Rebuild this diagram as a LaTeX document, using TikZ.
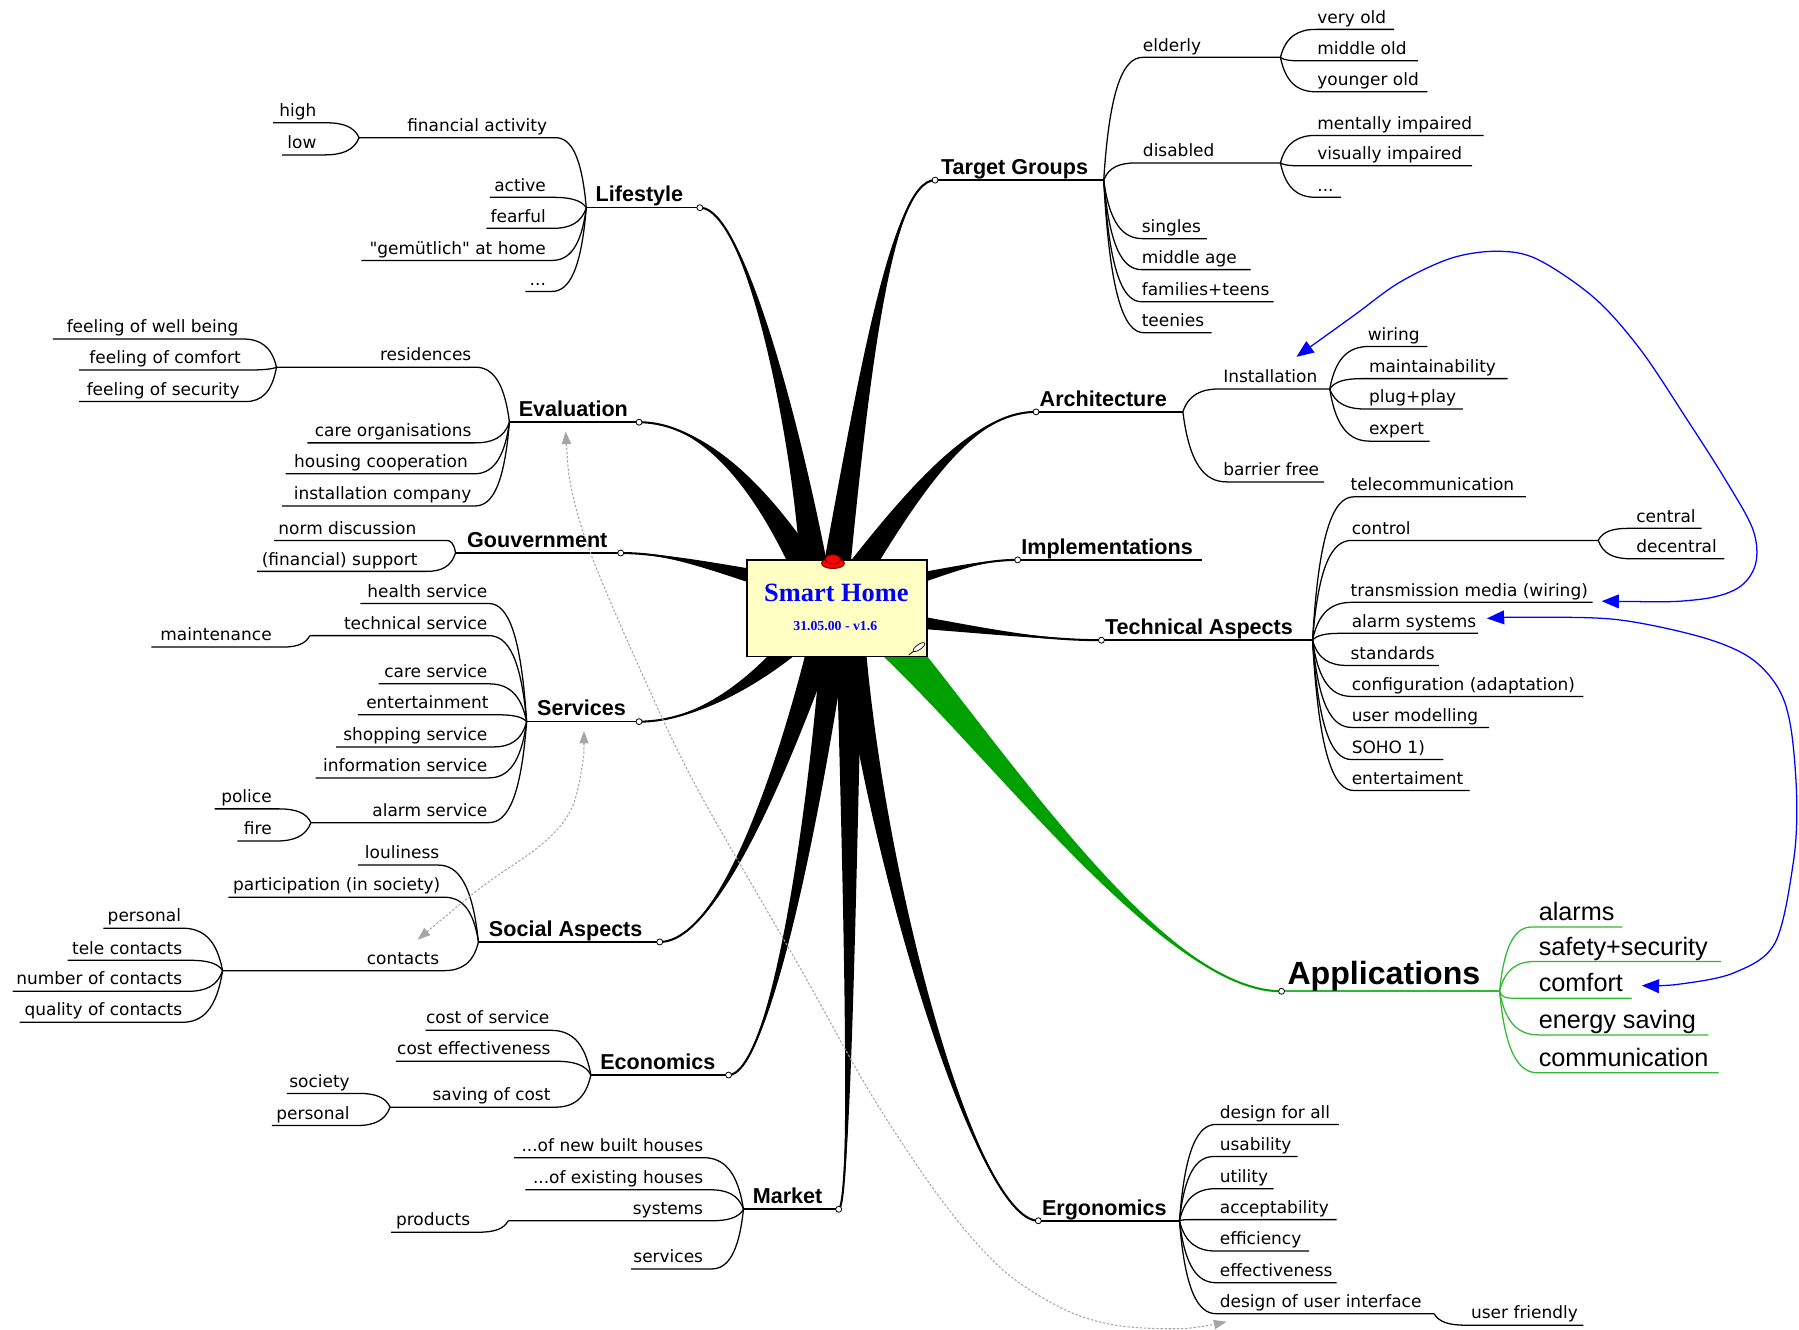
\documentclass[tikz,border=0pt]{standalone}
\usepackage{fontspec}
\setmainfont{DejaVu Sans}
\newfontfamily\labfont{DejaVu Sans}[Ligatures=TeXOff]
\newfontfamily\arialf{Liberation Sans}
\newfontfamily\timesf{Liberation Serif}
\usetikzlibrary{arrows.meta,calc}
\definecolor{noteyellow}{RGB}{255,255,196}
\definecolor{appgreen}{RGB}{0,160,0}
\definecolor{leafgreen}{RGB}{50,185,50}
\definecolor{relgray}{RGB}{165,165,165}
\definecolor{relblue}{RGB}{40,40,255}

\newcommand\sethub[3]{\def\hname{#1}\def\hx{#2}\def\hy{#3}\coordinate (#1) at (#2,#3);}
\newcommand\leafR[6]{%
  \pgfmathsetmacro\lfA{0.15*(#2-\hx)}%
  \pgfmathsetmacro\lfB{0.75*(#4-\hy)}%
  \pgfmathsetmacro\lfC{-0.5*(#2-\hx)}%
  \coordinate (#1-in) at (#2,#4);%
  \coordinate (#1-out) at (#3,#4);%
  \draw[br] (\hname) .. controls +(\lfA,\lfB) and +(\lfC,0) .. (#1-in) -- (#1-out);%
  \node[lbl,anchor=base west] (#1) at (#5,#4-5.5) {#6};%
}
\newcommand\leafL[6]{%
  \pgfmathsetmacro\lfA{0.15*(#2-\hx)}%
  \pgfmathsetmacro\lfB{0.75*(#4-\hy)}%
  \pgfmathsetmacro\lfC{-0.5*(#2-\hx)}%
  \coordinate (#1-in) at (#2,#4);%
  \coordinate (#1-out) at (#3,#4);%
  \draw[br] (\hname) .. controls +(\lfA,\lfB) and +(\lfC,0) .. (#1-in) -- (#1-out);%
  \node[lbl,anchor=base east] (#1) at (#5,#4-5.5) {#6};%
}
\newcommand\mainnode[6]{%
  \coordinate (#1E) at (#2,#4);%
  \coordinate (#1H) at (#3,#4);%
  \draw[mainln] (#1E) -- (#1H);%
  \node[mainlbl,anchor=base west] (#1) at (#5,#4-5) {#6};%
}
\newcommand\branch[6]{%
  \fill[#6] (#5) .. controls (#4) and ($(#3)+0.4*(#2)$) .. ($(#1)+(#2)$) -- ($(#1)-(#2)$) .. controls ($(#3)-0.4*(#2)$) and (#4) .. (#5) -- cycle;%
  \draw[#6,line width=1.8] (#1) .. controls (#3) and (#4) .. (#5);%
}

\begin{document}
\begin{tikzpicture}[x=1pt,y=-1pt,
  br/.style={black,line width=1.1},
  mainln/.style={black,line width=1.4},
  lbl/.style={font=\labfont\fontsize{14.8}{16}\selectfont,inner sep=0pt},
  mainlbl/.style={font=\arialf\bfseries\fontsize{18.8}{21}\selectfont,inner sep=0pt},
  endcirc/.style={draw=black,fill=white,line width=0.7},
  relg/.style={relgray,line width=0.9,dash pattern=on 2pt off 1.6pt},
  gtips/.style={{Triangle[length=11pt,width=8pt]}-{Triangle[length=11pt,width=8pt]}},
  relb/.style={blue,line width=1.1},
  btips/.style={{Triangle[length=15pt,width=12pt]}-{Triangle[length=15pt,width=12pt]}}]
\useasboundingbox (0,0) rectangle (1568,1159);
\fill[white] (0,0) rectangle (1568,1159);

% ---------- main nodes (underlines and labels)
\mainnode{lifestyle}{610}{511}{181}{519}{Lifestyle}
\mainnode{evaluation}{557}{444}{368}{452}{Evaluation}
\mainnode{gouv}{541}{397}{482}{407}{Gouvernment}
\mainnode{services}{557}{459}{629}{468}{Services}
\mainnode{social}{575}{417}{821}{426}{Social Aspects}
\mainnode{economics}{635}{515}{937}{523}{Economics}
\mainnode{market}{731}{648}{1054}{656}{Market}
\mainnode{target}{815}{962}{157}{820}{Target Groups}
\mainnode{arch}{903}{1031}{359}{906}{Architecture}
\mainnode{impl}{887}{1048}{488}{890}{Implementations}
\mainnode{techa}{960}{1144}{558}{963}{Technical Aspects}
\mainnode{ergo}{905}{1028}{1064}{908}{Ergonomics}
\coordinate (applicationsE) at (1117,864);
\coordinate (applicationsH) at (1307,864);
\draw[leafgreen,line width=1.4] (applicationsE) -- (applicationsH);
\node[font=\arialf\bfseries\fontsize{28}{30}\selectfont,inner sep=0pt,anchor=base west] (applications) at (1122,858) {Applications};

% ---------- tapered main branches
\branch{712,520}{14,-1}{705,430}{655,181}{lifestyleE}{black}
\branch{715,520}{12.5,-6.3}{665,420}{610,368}{evaluationE}{black}
\branch{730,520}{3,-12}{640,500}{590,482}{gouvE}{black}
\branch{720,530}{10,8.3}{670,590}{610,629}{servicesE}{black}
\branch{725,530}{12.5,3.6}{690,650}{630,821}{socialE}{black}
\branch{730,530}{12,1.3}{710,720}{670,937}{economicsE}{black}
\branch{740,530}{12,0}{741,800}{741,1050}{marketE}{black}
\branch{740,530}{12,-1}{760,750}{850,1064}{ergoE}{black}
\branch{760,540}{12,-12}{860,640}{1010,864}{applicationsE}{appgreen}
\branch{740,535}{-1,9}{830,545}{900,558}{techaE}{black}
\branch{740,520}{2.2,8.7}{820,500}{850,488}{implE}{black}
\branch{730,525}{10.8,7.2}{800,420}{850,359}{archE}{black}
\branch{725,525}{12.9,1.8}{750,350}{775,157}{targetE}{black}

\foreach \n in {lifestyle,evaluation,gouv,services,social,economics,market,target,arch,impl,techa,ergo,applications}
  \draw[endcirc] (\n E) circle (2.6);

% ---------- Lifestyle
\sethub{lifehub}{511}{181}
\leafL{fin}{484}{313}{120}{477}{financial activity}
\leafL{active}{482}{427}{172}{476}{active}
\leafL{fearful}{482}{424}{199}{476}{fearful}
\leafL{gemuet}{481}{315}{227}{476}{"gemütlich" at home}
\leafL{ldots}{481}{458}{254}{476}{...}
\sethub{finhub}{313}{120}
\leafL{high}{284}{238}{107}{276}{high}
\leafL{low}{283}{246}{135}{276}{low}

% ---------- Evaluation
\sethub{evalhub}{444}{368}
\leafL{res}{414}{241}{320}{411}{residences}
\leafL{careorg}{414}{268}{386}{411}{care organisations}
\leafL{housing}{413}{249}{413}{408}{housing cooperation}
\leafL{instco}{414}{246}{441}{411}{installation company}
\sethub{reshub}{241}{320}
\leafL{fwb}{212}{46}{295.5}{208}{feeling of well being}
\leafL{fcomf}{216}{69}{322.5}{210}{feeling of comfort}
\leafL{fsec}{214}{69}{350}{209}{feeling of security}

% ---------- Gouvernment
\sethub{govhub}{397}{482}
\leafL{norm}{389}{239}{471}{363}{norm discussion}
\leafL{finsup}{372}{224}{498}{364}{(financial) support}

% ---------- Services
\sethub{servhub}{459}{629}
\leafL{health}{426}{314}{526}{425}{health service}
\leafL{techserv}{426}{270}{554}{425}{technical service}
\leafL{careserv}{426}{330}{596}{425}{care service}
\leafL{entert}{434}{312}{623}{426}{entertainment}
\leafL{shop}{430}{293}{651}{425}{shopping service}
\leafL{info}{426}{275}{678}{425}{information service}
\leafL{alarmserv}{426}{271}{717}{425}{alarm service}
\sethub{techhub}{270}{554}
\leafL{maint}{246}{132}{564}{237}{maintenance}
\sethub{alarmhub}{271}{717}
\leafL{police}{243}{187}{705}{237}{police}
\leafL{fire}{241}{207}{733}{237}{fire}

% ---------- Social Aspects
\sethub{sochub}{417}{821}
\leafL{loul}{382}{312}{754}{383}{louliness}
\leafL{partic}{387}{199}{782}{384}{participation (in society)}
\leafL{contacts}{387}{194}{846}{383}{contacts}
\sethub{conthub}{194}{846}
\leafL{personal}{159}{90}{809}{158}{personal}
\leafL{tele}{166}{59}{837}{159}{tele contacts}
\leafL{number}{164}{11}{864}{159}{number of contacts}
\leafL{quality}{159}{17}{891}{159}{quality of contacts}

% ---------- Economics
\sethub{ecohub}{515}{937}
\leafL{costserv}{480}{371}{898}{479}{cost of service}
\leafL{costeff}{485}{345}{925}{480}{cost effectiveness}
\leafL{saving}{484}{340}{965}{480}{saving of cost}
\sethub{savhub}{340}{965}
\leafL{society}{313}{250}{953}{305}{society}
\leafL{personalb}{311}{237}{981}{305}{personal}

% ---------- Market
\sethub{markhub}{648}{1054}
\leafL{newbuilt}{613}{448}{1009}{613}{...of new built houses}
\leafL{existing}{619}{458}{1037}{613}{...of existing houses}
\leafL{systems}{620}{443}{1064}{613}{systems}
\leafL{mservices}{620}{550}{1106}{613}{services}
\sethub{syshub}{443}{1064}
\leafL{products}{417}{341}{1074}{410}{products}

% ---------- Target Groups
\sethub{tghub}{962}{157}
\leafR{elderly}{996}{1116}{50}{996}{elderly}
\leafR{disabled}{990}{1116}{142}{996}{disabled}
\leafR{singles}{996}{1052}{208}{995}{singles}
\leafR{midage}{995}{1090}{235}{995}{middle age}
\leafR{families}{995}{1110}{263}{995}{families+teens}
\leafR{teenies}{997}{1056}{290}{995}{teenies}
\sethub{eldhub}{1116}{50}
\leafR{veryold}{1147}{1215}{25.6}{1148}{very old}
\leafR{midold}{1133}{1236}{53}{1148}{middle old}
\leafR{youngold}{1147}{1244}{80}{1148}{younger old}
\sethub{dishub}{1116}{142}
\leafR{mental}{1147}{1293}{118}{1148}{mentally impaired}
\leafR{visual}{1133}{1283}{144.5}{1148}{visually impaired}
\leafR{disdots}{1147}{1169}{172}{1148}{...}

% ---------- Architecture
\sethub{archhub}{1031}{359}
\leafR{install}{1063}{1159}{339}{1066}{Installation}
\leafR{barrier}{1069}{1154}{420}{1066}{barrier free}
\sethub{insthub}{1159}{339}
\leafR{wiring}{1193}{1244}{302}{1192}{wiring}
\leafR{maintain}{1187}{1314}{330}{1193}{maintainability}
\leafR{plug}{1190}{1275}{356.5}{1193}{plug+play}
\leafR{expert}{1194}{1246}{384.5}{1193}{expert}

% ---------- Technical Aspects
\sethub{techahub}{1144}{558}
\leafR{telecom}{1180}{1330}{433}{1177}{telecommunication}
\leafR{control}{1178}{1393}{471}{1178}{control}
\leafR{transm}{1178}{1388}{525}{1177}{transmission media (wiring)}
\leafR{alarmsys}{1168}{1288}{552}{1178}{alarm systems}
\leafR{standards}{1174}{1254}{580}{1177}{standards}
\leafR{config}{1178}{1380}{607}{1178}{configuration (adaptation)}
\leafR{usermod}{1178}{1298}{634}{1178}{user modelling}
\leafR{soho}{1178}{1258}{662}{1178}{SOHO 1)}
\leafR{entertai}{1180}{1281}{689}{1178}{entertaiment}
\sethub{ctrlhub}{1393}{471}
\leafR{central}{1419}{1483}{460.5}{1426}{central}
\leafR{decentral}{1421}{1503}{487}{1426}{decentral}

% ---------- Ergonomics
\sethub{ergohub}{1028}{1064}
\leafR{dfa}{1060}{1167}{980}{1063}{design for all}
\leafR{usab}{1058}{1131}{1008}{1063}{usability}
\leafR{utility}{1060}{1110}{1036}{1063}{utility}
\leafR{accept}{1038}{1165}{1063}{1063}{acceptability}
\leafR{effic}{1060}{1141}{1090.4}{1063}{efficiency}
\leafR{effect}{1060}{1165}{1118}{1063}{effectiveness}
\leafR{dui}{1060}{1250}{1145}{1063}{design of user interface}
\sethub{duihub}{1250}{1145}
\leafR{userfr}{1277}{1380}{1155}{1282}{user friendly}

% ---------- Applications
\begin{scope}[br/.style={leafgreen,line width=1.1},
  lbl/.style={font=\arialf\fontsize{22}{24}\selectfont,inner sep=0pt}]
\sethub{apphub}{1307}{864}
\leafR{alarms}{1335}{1414}{808}{1341}{alarms}
\leafR{safety}{1338}{1500}{838}{1341}{safety+security}
\leafR{comfort}{1317}{1422}{870}{1341}{comfort}
\leafR{energy}{1341}{1489}{902}{1341}{energy saving}
\leafR{commun}{1340}{1498}{935}{1341}{communication}
\end{scope}

% ---------- central node
\node[draw=black,line width=1.2,fill=noteyellow,minimum width=157pt,minimum height=84pt,inner sep=0pt] (smarthome) at (729.5,530) {};
\node[font=\timesf\bfseries\fontsize{23}{25}\selectfont,text=blue,anchor=base,inner sep=0pt] (title) at (729,524) {Smart Home};
\node[font=\timesf\bfseries\fontsize{12}{13}\selectfont,text=blue,anchor=base,inner sep=0pt] (version) at (728,549.5) {31.05.00 - v1.6};
\filldraw[fill=red,draw=red!45!black,line width=0.8] (726,491) ellipse (10 and 4.5);
\filldraw[fill=red,draw=red!45!black,line width=0.8] (726,487.5) ellipse (6.5 and 4);
\draw[line width=0.7] (792,571) -- (797,567);
\filldraw[fill=white,draw=black,line width=0.6,rotate around={35:(801,564)}] (801,564) ellipse (6 and 2.2);

% ---------- relationships
\coordinate (g1a) at (509,637);
\coordinate (g1b) at (364,819);
\draw[relg,gtips] plot[smooth,tension=0.6] coordinates {(g1a) (507,670) (497,707) (472,736) (420,773) (g1b)};
\coordinate (g2a) at (493,376);
\coordinate (g2b) at (1069,1152);
\draw[relg,gtips] plot[smooth,tension=0.55] coordinates {(g2a) (499,430) (517,488) (560,588) (607,686) (697,843) (760,955) (820,1045) (872,1105) (925,1140) (972,1155) (1030,1158) (g2b)};
\coordinate (b1a) at (1296,539);
\coordinate (b1b) at (1431,859);
\draw[relb,btips] plot[smooth,tension=0.55] coordinates {(b1a) (1333,538) (1409,540) (1482,555) (1525,573) (1550,600) (1561,635) (1566,697) (1563,752) (1547,822) (1511,848) (1462,858) (b1b)};
\coordinate (b2a) at (1396,524);
\coordinate (b2b) at (1130,311);
\draw[relb,btips] plot[smooth,tension=0.55] coordinates {(b2a) (1476,523) (1514,513) (1530,492) (1528,462) (1505,420) (1470,365) (1430,305) (1390,260) (1340,226) (1305,219) (1265,225) (1220,246) (1180,275) (b2b)};
\end{tikzpicture}
\end{document}
